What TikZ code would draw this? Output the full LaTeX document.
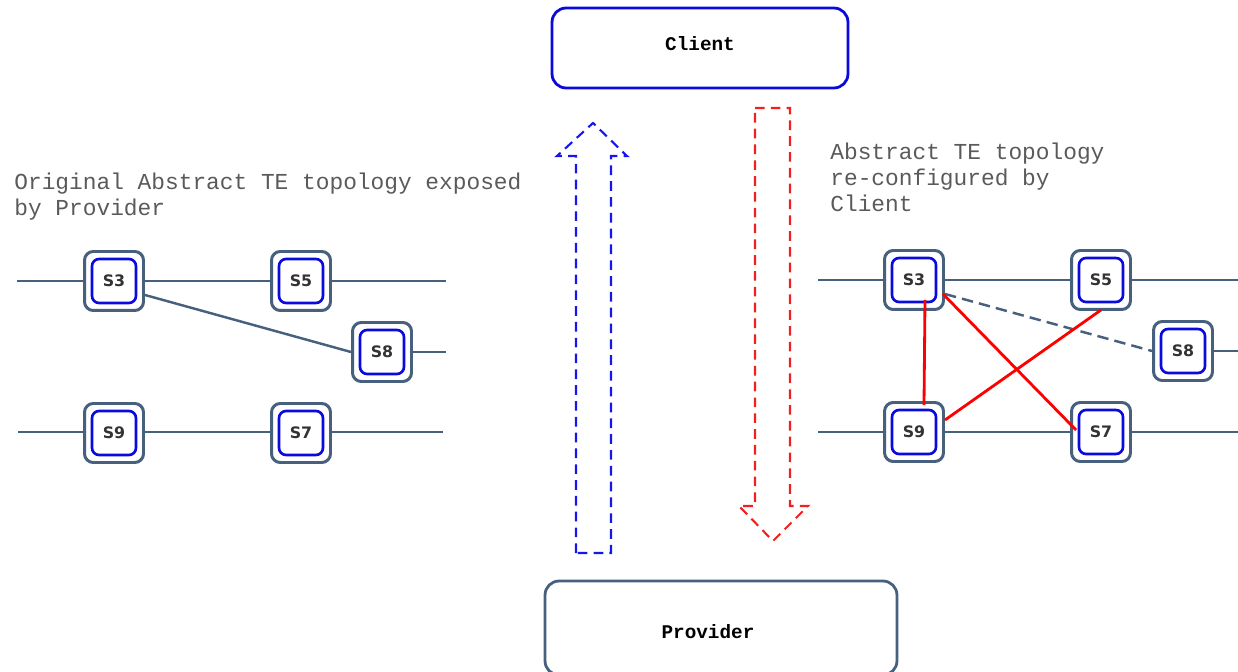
\documentclass[tikz,border=0pt]{standalone}
\usepackage{fontspec}
\setmainfont{Liberation Serif}
\newfontfamily\monofnt{Liberation Mono}
\newfontfamily\swfnt{DejaVu Sans}
\definecolor{slate}{HTML}{46607E}
\definecolor{swblue}{HTML}{0A0ADC}
\definecolor{lblgray}{HTML}{5A5A5A}
\definecolor{arrblue}{HTML}{1515F0}
\definecolor{arrred}{HTML}{F02020}
\begin{document}
\begin{tikzpicture}[x=0.02cm,y=-0.02cm,
  sw/.style={draw=slate, line width=1.7pt, rounded corners=5pt, fill=white,
    minimum width=1.18cm, minimum height=1.18cm, inner sep=0pt,
    font=\swfnt\bfseries\fontsize{9}{10}\selectfont, text=black!80,
    path picture={\draw[swblue, line width=1.5pt, rounded corners=4pt]
      ([shift={(0.15cm,0.15cm)}]path picture bounding box.south west) rectangle
      ([shift={(-0.15cm,-0.15cm)}]path picture bounding box.north east);}},
  link/.style={draw=slate, line width=1.4pt},
  redlink/.style={draw=red, line width=1.6pt},
  bigbox/.style={rounded corners=8pt, line width=1.6pt, fill=white, inner sep=0pt},
  boxtext/.style={font=\monofnt\bfseries\fontsize{11}{13}\selectfont, inner sep=0pt},
  lbl/.style={font=\monofnt\fontsize{13}{14.8}\selectfont, text=lblgray, align=left, inner sep=0pt},
  fatarrow/.style={line width=1.2pt, dash pattern=on 5.5pt off 3.5pt, line join=miter}
]
\clip (0,0) rectangle (1238,672);
\useasboundingbox (0,0) rectangle (1238,672);

% Client / Provider
\node[bigbox, draw=swblue, minimum width=5.92cm, minimum height=1.6cm] (client) at (700,48) {};
\node[boxtext] (clientlbl) at (700,44) {Client};
\node[bigbox, draw=slate, minimum width=7.04cm, minimum height=1.88cm] (provider) at (721,628) {};
\node[boxtext] (provlbl) at (708,632) {Provider};

% big dashed arrows
\draw[fatarrow, draw=arrblue] (576,553) -- (576,156) -- (557,156) -- (593,123) -- (627,156) -- (611,156) -- (611,553) -- cycle;
\draw[fatarrow, draw=arrred] (755,108) -- (790,108) -- (790,506) -- (808,506) -- (773,541) -- (739,506) -- (755,506) -- cycle;

% labels
\node[lbl, anchor=north west] (lbl1) at (14,173) {Original Abstract TE topology exposed\\by Provider};
\node[lbl, anchor=north west] (lbl2) at (830,143) {Abstract TE topology\\re-configured by\\Client};

% left topology
\coordinate (la1) at (17,281);
\coordinate (la2) at (446,281);
\coordinate (la3) at (446,352);
\coordinate (la4) at (18,432);
\coordinate (la5) at (443,432);
\coordinate (la6) at (382,352);
\draw[link] (la1) -- (la2);
\draw[link] (la4) -- (la5);
\draw[link] (la6) -- (la3);
\node[sw] (L3) at (114,281) {S3};
\node[sw] (L5) at (301,281) {S5};
\node[sw] (L8) at (382,352) {S8};
\node[sw] (L9) at (114,433) {S9};
\node[sw] (L7) at (301,433) {S7};
\draw[link] ([yshift=-0.28cm]L3.east) -- (L8.west);

% right topology
\coordinate (ra1) at (818,280);
\coordinate (ra2) at (1238,280);
\coordinate (ra3) at (1238,351);
\coordinate (ra4) at (818,432);
\coordinate (ra5) at (1238,432);
\coordinate (ra6) at (1183,351);
\draw[link] (ra1) -- (ra2);
\draw[link] (ra4) -- (ra5);
\draw[link] (ra6) -- (ra3);
\node[sw] (R3) at (914,280) {S3};
\node[sw] (R5) at (1101,280) {S5};
\node[sw] (R8) at (1183,351) {S8};
\node[sw] (R9) at (914,432) {S9};
\node[sw] (R7) at (1101,432) {S7};
\draw[link, dash pattern=on 6.5pt off 3.5pt] ([yshift=-0.28cm]R3.east) -- (R8.west);
\draw[redlink] ([xshift=0.22cm,yshift=-0.4cm]R3.center) -- ([xshift=0.2cm,yshift=0.54cm]R9.center);
\draw[redlink] ([xshift=-0.04cm,yshift=-0.28cm]R3.east) -- ([xshift=0.12cm,yshift=0.04cm]R7.west);
\draw[redlink] ([yshift=0.02cm]R5.south) -- ([yshift=0.24cm]R9.east);
\end{tikzpicture}
\end{document}
